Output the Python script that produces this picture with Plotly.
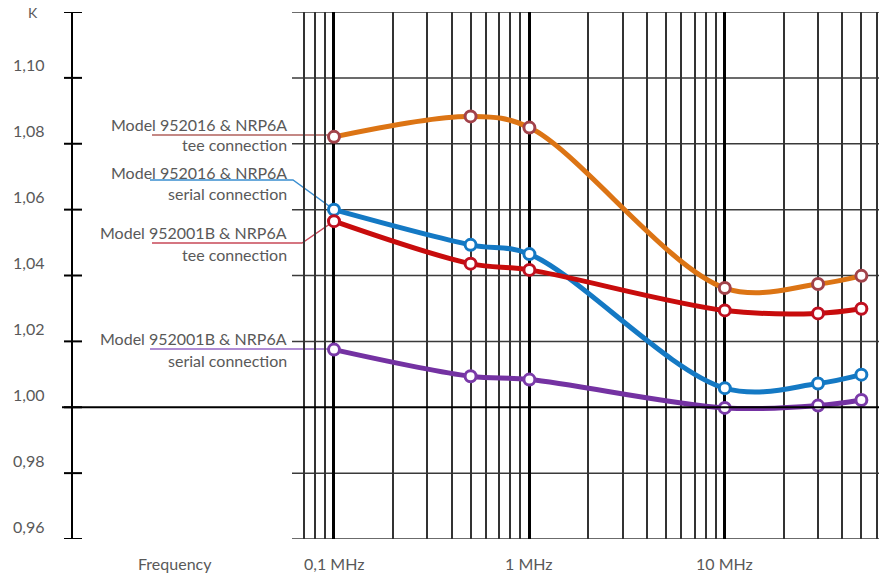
import math
import plotly.graph_objects as go

# ---------------- data ----------------
freq_mhz = [0.1, 0.5, 1, 10, 30, 50]
k_952016_tee = [1.0821, 1.0883, 1.0849, 1.0362, 1.0374, 1.0399]
k_952016_serial = [1.0600, 1.0493, 1.0465, 1.0058, 1.0072, 1.0099]
k_952001b_tee = [1.0565, 1.0436, 1.0417, 1.0294, 1.0285, 1.0299]
k_952001b_serial = [1.0175, 1.0094, 1.0084, 0.9998, 1.0005, 1.0022]

series_names = ["Model 952016 & NRP6A|tee connection",
                "Model 952016 & NRP6A|serial connection",
                "Model 952001B & NRP6A|tee connection",
                "Model 952001B & NRP6A|serial connection"]

y_tick_vals = [0.96, 0.98, 1.00, 1.02, 1.04, 1.06, 1.08, 1.10]
y_tick_text = ["0,96", "0,98", "1,00", "1,02", "1,04", "1,06", "1,08", "1,10"]
y_top_val = 1.12
y_top_label = "K"

x_major_vals = [0.1, 1, 10]
x_major_text = ["0,1 MHz", "1 MHz", "10 MHz"]
x_minor_vals = [0.07, 0.08, 0.09,
                0.2, 0.3, 0.4, 0.5, 0.6, 0.7, 0.8, 0.9,
                2, 3, 4, 5, 6, 7, 8, 9,
                20, 30, 40, 50, 60]
x_axis_title = "Frequency"

# ---------------- geometry ----------------
W, H = 879, 576
L, R, T, B = 73, 0, 12, 37
PW, PH = W - L - R, H - T - B
XR = [-2.3357, 1.7892]
YR = [0.96, 1.12]

def px2paper(px):
    return (px - L) / PW

def py2paper(py):
    return (H - B - py) / PH

def data2px(x):
    return L + (math.log10(x) - XR[0]) / (XR[1] - XR[0]) * PW

def data2py(y):
    return H - B - (y - YR[0]) / (YR[1] - YR[0]) * PH

FONT = "Lato, Calibri, 'Open Sans', sans-serif"
TXT = "#595959"

line_colors = ["#dc7414", "#1479c4", "#c80c0c", "#7432a2"]
marker_edge = ["#a2424a", "#1479c4", "#c01020", "#7a3aa8"]
leader_colors = ["#b0605c", "#3a8ed0", "#c84858", "#9566c4"]

fig = go.Figure()
all_series = [k_952016_tee, k_952016_serial, k_952001b_tee, k_952001b_serial]
for i, ys in enumerate(all_series):
    fig.add_trace(go.Scatter(
        x=freq_mhz, y=ys, mode="lines+markers",
        line=dict(color=line_colors[i], width=5, shape="spline", smoothing=1.0),
        marker=dict(size=11, color="white", line=dict(color=marker_edge[i], width=3)),
        name=series_names[i].replace("|", " "), showlegend=False, hoverinfo="x+y"))

shapes = []
grid_left = px2paper(292)
# horizontal grid lines (only in grid region)
for v in y_tick_vals + [y_top_val]:
    if abs(v - 1.0) < 1e-9:
        continue
    shapes.append(dict(type="line", xref="paper", yref="y", x0=grid_left, x1=1,
                       y0=v, y1=v, line=dict(color="#3a3a3a", width=1.5), layer="below"))
# 1.00 line across entire width
shapes.append(dict(type="line", xref="paper", yref="y", x0=px2paper(62), x1=1,
                   y0=1.0, y1=1.0, line=dict(color="black", width=2), layer="above"))
# y tick marks crossing the axis
for v in y_tick_vals + [y_top_val]:
    shapes.append(dict(type="line", xref="paper", yref="y", x0=px2paper(64), x1=px2paper(82),
                       y0=v, y1=v, line=dict(color="black", width=2), layer="above"))

# leader lines from labels to first points
label_line_y = [135, 180, 243, 349]
label_line_x0 = [152, 150, 152, 150]
label_knee_x = [None, 293, 302, None]
for i, ys in enumerate(all_series):
    ex, ey = data2px(freq_mhz[0]), data2py(ys[0])
    pts = [(label_line_x0[i], label_line_y[i])]
    if label_knee_x[i] is not None:
        pts.append((label_knee_x[i], label_line_y[i]))
        pts.append((ex, ey))
    else:
        pts.append((ex, label_line_y[i]))
    path = "M " + " L ".join(f"{px2paper(a):.5f},{py2paper(b):.5f}" for a, b in pts)
    shapes.append(dict(type="path", xref="paper", yref="paper", path=path,
                       line=dict(color=leader_colors[i], width=1.3), layer="below"))

annotations = []
# y tick labels
for v, t in zip(y_tick_vals, y_tick_text):
    annotations.append(dict(xref="paper", yref="paper", x=px2paper(46), y=py2paper(data2py(v) - 13),
                            text=t, showarrow=False, xanchor="right", yanchor="middle",
                            font=dict(family=FONT, size=16, color=TXT)))
annotations.append(dict(xref="paper", yref="paper", x=px2paper(33), y=py2paper(data2py(y_top_val)),
                        text=y_top_label, showarrow=False, xanchor="center", yanchor="middle",
                        font=dict(family=FONT, size=14, color=TXT)))
# x labels
for v, t in zip(x_major_vals, x_major_text):
    annotations.append(dict(xref="paper", yref="paper", x=px2paper(data2px(v)), y=py2paper(563),
                            text=t, showarrow=False, xanchor="center", yanchor="middle",
                            font=dict(family=FONT, size=16, color=TXT)))
annotations.append(dict(xref="paper", yref="paper", x=px2paper(175), y=py2paper(563),
                        text=x_axis_title, showarrow=False, xanchor="center", yanchor="middle",
                        font=dict(family=FONT, size=16, color=TXT)))
# series labels
label_rows = [(124, 145), (172, 193), (233, 255), (338, 360)]
for name, (r1, r2) in zip(series_names, label_rows):
    l1, l2 = name.split("|")
    for txt, yy in ((l1, r1), (l2, r2)):
        annotations.append(dict(xref="paper", yref="paper", x=px2paper(289), y=py2paper(yy),
                                text=txt, showarrow=False, xanchor="right", yanchor="middle",
                                font=dict(family=FONT, size=16, color=TXT)))

fig.update_layout(
    width=W, height=H, margin=dict(l=L, r=R, t=T, b=B),
    paper_bgcolor="white", plot_bgcolor="white",
    showlegend=False, shapes=shapes, annotations=annotations,
    xaxis=dict(type="log", range=XR, tickvals=x_major_vals, showticklabels=False, ticks="",
               showgrid=True, gridcolor="black", gridwidth=2.5, zeroline=False, showline=False,
               minor=dict(tickvals=x_minor_vals, showgrid=True, gridcolor="#333333",
                          gridwidth=1.5, ticks="")),
    yaxis=dict(range=YR, showgrid=False, zeroline=False, showticklabels=False, ticks="",
               showline=True, linecolor="black", linewidth=2),
)

fig.write_html("out.html", config={"displayModeBar": False},
               post_script="document.body.style.margin='0';document.body.style.overflow='hidden';")
